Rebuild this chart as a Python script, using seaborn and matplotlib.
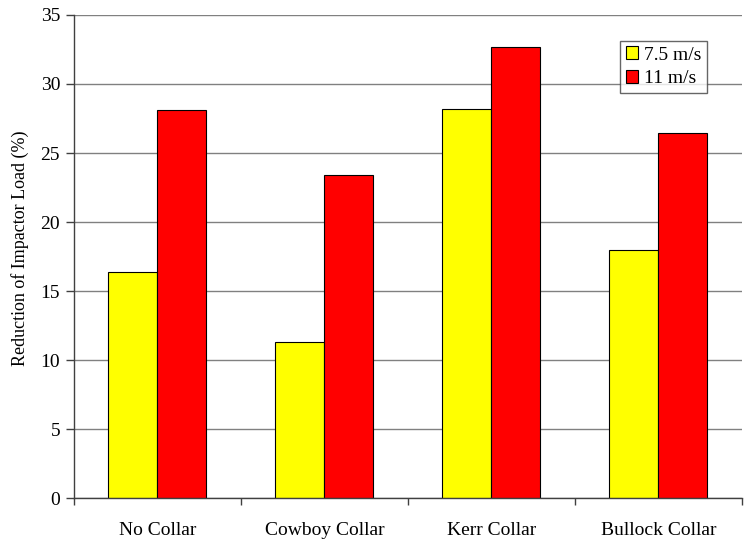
import matplotlib
matplotlib.use("Agg")
import matplotlib.pyplot as plt
import seaborn as sns
import pandas as pd
from matplotlib.ticker import FixedLocator

categories = ["No Collar", "Cowboy Collar", "Kerr Collar", "Bullock Collar"]
series_names = ["7.5 m/s", "11 m/s"]
values_75 = [16.4, 11.3, 28.2, 18.0]
values_11 = [28.15, 23.4, 32.7, 26.45]
colors = ["#FFFF00", "#FF0000"]

df = pd.DataFrame({
    "Collar": categories * 2,
    "Speed": [series_names[0]] * 4 + [series_names[1]] * 4,
    "Value": values_75 + values_11,
})

sns.set_style("white")
plt.rcParams["font.family"] = ["Liberation Serif", "DejaVu Serif"]
plt.rcParams["text.color"] = "black"
plt.rcParams["axes.labelcolor"] = "black"
plt.rcParams["xtick.color"] = "black"
plt.rcParams["ytick.color"] = "black"

fig = plt.figure(figsize=(7.47, 5.39), dpi=100)
ax = fig.add_axes([0.099, 0.0753, 0.894, 0.897])

ax.set_axisbelow(True)
ax.yaxis.grid(True, color="#808080", linewidth=1.0)
sns.barplot(data=df, x="Collar", y="Value", hue="Speed", order=categories,
            hue_order=series_names, palette=colors, width=0.587,
            edgecolor="black", linewidth=0.8, saturation=1, ax=ax)

ax.set_ylim(0, 35)
ax.set_yticks(range(0, 36, 5))
ax.set_xlim(-0.5, 3.5)
ax.set_xlabel("")
ax.set_ylabel("Reduction of Impactor Load (%)", fontsize=13)
ax.yaxis.set_label_coords(-0.068, 0.518)

for s in ["top", "right"]:
    ax.spines[s].set_visible(False)
for s in ["left", "bottom"]:
    ax.spines[s].set_color("#404040")
    ax.spines[s].set_linewidth(1.0)

ax.tick_params(axis="y", which="major", direction="out", length=6, width=1,
               color="#404040", labelsize=14, pad=4, left=True)
ax.tick_params(axis="x", which="major", length=0, labelsize=14, pad=17)
ax.xaxis.set_minor_locator(FixedLocator([-0.5, 0.5, 1.5, 2.5, 3.5]))
ax.tick_params(axis="x", which="minor", direction="out", length=5, width=1,
               color="#404040", bottom=True)

leg = ax.legend(title=None, loc="upper left", bbox_to_anchor=(0.818, 0.947),
                frameon=True, fancybox=False, fontsize=14, handlelength=0.62,
                handleheight=0.62, handletextpad=0.3, borderpad=0.3,
                labelspacing=0.35, borderaxespad=0)
leg.get_frame().set_edgecolor("#404040")
leg.get_frame().set_linewidth(1.0)

fig.savefig("out.png", dpi=100)
